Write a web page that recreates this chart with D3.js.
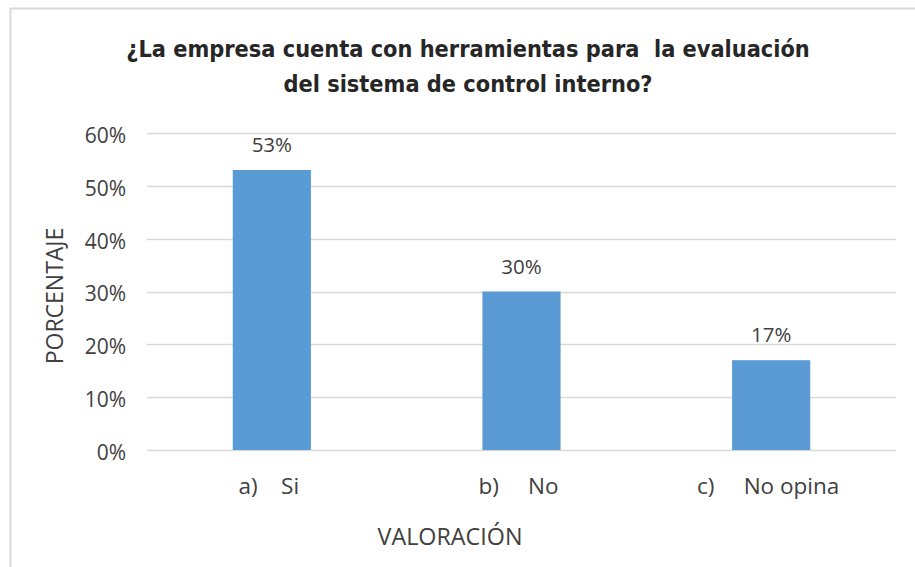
<!DOCTYPE html>
<html>
<head>
<meta charset="utf-8">
<script src="https://cdn.jsdelivr.net/npm/d3@7"></script>
<style>
  body { margin: 0; background: #fff; }
  text { white-space: pre; }
</style>
</head>
<body>
<div id="chart"></div>
<script>
// chart data
const categories = ['a)    Si', 'b)     No', 'c)     No opina'];
const values = [0.53, 0.30, 0.17];
const valueLabels = ['53%', '30%', '17%'];
const yTicks = [0, 0.1, 0.2, 0.3, 0.4, 0.5, 0.6];
const titleLines = ['¿La empresa cuenta con herramientas para  la evaluación', 'del sistema de control interno?'];

const width = 915, height = 567;
const margin = { top: 133, right: 19, bottom: 117, left: 147 };
const font = 'Open Sans, sans-serif';
const textColor = '#404040';

const svg = d3.select('#chart').append('svg')
    .attr('width', width)
    .attr('height', height);

// chart frame
svg.append('path')
    .attr('d', `M10.5,${height} V8.5 H${width}`)
    .attr('fill', 'none')
    .attr('stroke', '#d9d9d9')
    .attr('stroke-width', 2);

const x = d3.scaleBand()
    .domain(categories)
    .range([margin.left, width - margin.right])
    .paddingInner(0.687)
    .paddingOuter(0.3435);

const y = d3.scaleLinear()
    .domain([0, 0.6])
    .range([height - margin.bottom, margin.top]);

// gridlines
svg.append('g')
    .selectAll('line')
    .data(yTicks)
    .enter().append('line')
    .attr('x1', margin.left)
    .attr('x2', width - margin.right)
    .attr('y1', d => Math.round(y(d)) + 0.5)
    .attr('y2', d => Math.round(y(d)) + 0.5)
    .attr('stroke', '#d9d9d9')
    .attr('stroke-width', 1.5);

// y axis labels
const yAxis = d3.axisLeft(y)
    .tickValues(yTicks)
    .tickFormat(d3.format('.0%'))
    .tickSize(0)
    .tickPadding(21);

svg.append('g')
    .attr('transform', `translate(${margin.left},0)`)
    .call(yAxis)
    .call(g => g.select('.domain').remove())
    .selectAll('text')
    .attr('dy', '0.45em')
    .attr('font-family', font)
    .attr('font-size', 21)
    .attr('fill', textColor);

// bars
svg.selectAll('.bar')
    .data(values)
    .enter().append('rect')
    .attr('class', 'bar')
    .attr('x', (d, i) => x(categories[i]))
    .attr('y', d => y(d))
    .attr('width', x.bandwidth())
    .attr('height', d => y(0) - y(d))
    .attr('fill', '#5b9bd5');

// value labels
svg.selectAll('.value')
    .data(values)
    .enter().append('text')
    .attr('class', 'value')
    .attr('x', (d, i) => x(categories[i]) + x.bandwidth() / 2)
    .attr('y', d => y(d) - 18)
    .attr('text-anchor', 'middle')
    .attr('font-family', font)
    .attr('font-size', 20.5)
    .attr('fill', textColor)
    .text((d, i) => valueLabels[i]);

// category labels
const xAxis = d3.axisBottom(x).tickSize(0);
svg.append('g')
    .attr('transform', `translate(0,${y(0)})`)
    .call(xAxis)
    .call(g => g.select('.domain').remove())
    .selectAll('text')
    .attr('x', -3)
    .attr('y', 43.5)
    .attr('dy', 0)
    .attr('font-family', font)
    .attr('font-size', 22.5)
    .attr('fill', textColor);

// axis titles
svg.append('text')
    .attr('x', 450)
    .attr('y', 545)
    .attr('text-anchor', 'middle')
    .attr('font-family', font)
    .attr('font-size', 23.3)
    .attr('fill', textColor)
    .text('VALORACIÓN');

svg.append('text')
    .attr('transform', 'translate(63,296) rotate(-90)')
    .attr('text-anchor', 'middle')
    .attr('font-family', font)
    .attr('font-size', 23)
    .attr('fill', textColor)
    .text('PORCENTAJE');

// title
svg.append('g')
    .selectAll('text')
    .data(titleLines)
    .enter().append('text')
    .attr('x', 468)
    .attr('y', (d, i) => 57 + i * 35)
    .attr('text-anchor', 'middle')
    .attr('font-family', 'Liberation Sans Narrow, DejaVu Sans Condensed, sans-serif')
    .attr('font-weight', 'bold')
    .attr('font-size', 23.3)
    .attr('fill', '#262626')
    .text(d => d);
</script>
</body>
</html>
